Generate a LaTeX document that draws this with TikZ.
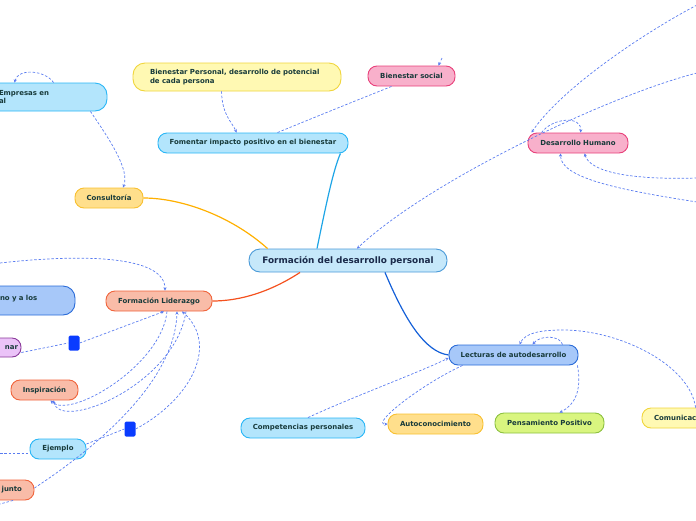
\documentclass[tikz,border=0pt]{standalone}
\usepackage{fontspec}
\setmainfont{DejaVu Sans}
\usetikzlibrary{arrows.meta,calc}
\definecolor{txt}{HTML}{173A3A}
\definecolor{ctxt}{HTML}{1A2A4A}
\definecolor{dsh}{HTML}{5A7CF0}
\definecolor{cfill}{HTML}{C6E8FA}\definecolor{cdraw}{HTML}{4A9AD8}
\definecolor{lbfill}{HTML}{B3E5FC}\definecolor{lbdraw}{HTML}{29B6F6}
\definecolor{yfill}{HTML}{FFF9B3}\definecolor{ydraw}{HTML}{F0D53C}
\definecolor{pkfill}{HTML}{F8B0CB}\definecolor{pkdraw}{HTML}{E8407A}
\definecolor{ofill}{HTML}{FFDF8C}\definecolor{odraw}{HTML}{F8C030}
\definecolor{sfill}{HTML}{F9BCA8}\definecolor{sdraw}{HTML}{F0643C}
\definecolor{bfill}{HTML}{A7C8F9}\definecolor{bdraw}{HTML}{2A6BD8}
\definecolor{pufill}{HTML}{EBC3F8}\definecolor{pudraw}{HTML}{8A3A9A}
\definecolor{gfill}{HTML}{D9F57F}\definecolor{gdraw}{HTML}{8CC040}
\definecolor{sqc}{HTML}{0A3CFF}
\definecolor{lcyan}{HTML}{1EA5E6}\definecolor{lorange}{HTML}{FFB000}
\definecolor{lred}{HTML}{F4511E}\definecolor{lblue}{HTML}{1560D8}
\tikzset{
 mm/.style={rectangle, rounded corners=9pt, line width=0.9pt, font=\bfseries\fontsize{6.95}{8.3}\selectfont, text=txt, inner sep=0pt, minimum height=20pt},
 lk/.style={draw=dsh, line width=0.7pt, dash pattern=on 2.5pt off 1.8pt},
 ar/.style={lk, -{Stealth[length=3.2pt,width=3.2pt]}},
 sq/.style={rectangle, rounded corners=1.5pt, fill=sqc, minimum width=11pt, minimum height=15pt, inner sep=0pt},
 mainln/.style={line width=1.2pt},
}
\begin{document}
\begin{tikzpicture}[x=1pt,y=-1pt]
\useasboundingbox (0,0) rectangle (696,520);
% nodes
\node[mm, fill=cfill, draw=cdraw, minimum width=198pt, minimum height=23pt, rounded corners=11pt, font=\bfseries\fontsize{8.9}{10}\selectfont, text=ctxt] (c) at (348,260.5) {Formación del desarrollo personal};
\node[mm, fill=lbfill, draw=lbdraw, minimum width=190pt] (fom) at (253,143) {Fomentar impacto positivo en el bienestar};
\node[mm, fill=yfill, draw=ydraw, minimum width=208pt, minimum height=28pt, rounded corners=12pt, align=left, text width=174pt, inner xsep=17pt] (bp) at (237,77) {Bienestar Personal, desarrollo de potencial\\de cada persona};
\node[mm, fill=pkfill, draw=pkdraw, minimum width=87pt] (bs) at (411.5,76) {Bienestar social};
\node[mm, fill=pkfill, draw=pkdraw, minimum width=100pt] (dh) at (578,143) {Desarrollo Humano};
\node[mm, fill=lbfill, draw=lbdraw, minimum width=146pt, minimum height=28pt, rounded corners=12pt, align=left, text width=70pt, inner xsep=38pt] (emp) at (34,97) {Empresas en\\al};
\node[mm, fill=ofill, draw=odraw, minimum width=68pt] (cons) at (109,198) {Consultoría};
\node[mm, fill=sfill, draw=sdraw, minimum width=106pt] (fl) at (159,301) {Formación Liderazgo};
\node[mm, fill=bfill, draw=bdraw, minimum width=105pt, minimum height=29pt, rounded corners=12pt, align=left, text width=45pt, inner xsep=30pt, text depth=5pt] (noy) at (22.5,300.5) {no y a los};
\node[mm, fill=pufill, draw=pudraw, minimum width=61pt, minimum height=19pt, align=right, text width=55pt, inner xsep=3pt] (nar) at (-9.5,347.5) {nar};
\node[mm, fill=sfill, draw=sdraw, minimum width=67pt] (insp) at (44.5,390) {Inspiración};
\node[mm, fill=lbfill, draw=lbdraw, minimum width=56pt] (ej) at (58,449) {Ejemplo};
\node[mm, fill=sfill, draw=sdraw, minimum width=74pt, align=right, text width=50pt, inner xsep=12pt] (jun) at (-3,490) {junto};
\node[mm, fill=bfill, draw=bdraw, minimum width=129pt] (lec) at (513.5,355) {Lecturas de autodesarrollo};
\node[mm, fill=lbfill, draw=lbdraw, minimum width=124pt] (comp) at (303,428) {Competencias personales};
\node[mm, fill=ofill, draw=odraw, minimum width=95pt] (auto) at (435.5,424) {Autoconocimiento};
\node[mm, fill=gfill, draw=gdraw, minimum width=109pt] (pp) at (549.5,423) {Pensamiento Positivo};
\node[mm, fill=yfill, draw=ydraw, minimum width=98pt, align=left, text width=74pt, inner xsep=12pt] (com) at (691,418) {Comunicac};
\node[sq] (sq1) at (74,343) {};
\node[sq] (sq2) at (130,429) {};
% free ends
\coordinate (tr1) at (697,73);
\coordinate (tr2) at (697,5);
\coordinate (rr1) at (697,178);
\coordinate (rr2) at (697,202);
\coordinate (bsin) at (442,58);
\coordinate (lft1) at (0,263);
\coordinate (lft2) at (0,453);
\coordinate (lft3) at (0,504);
% main connectors
\draw[mainln, lcyan] ($(c.north)+(-31,0)$) .. controls (325,210) and (333,170) .. ($(fom.south east)+(-8,0)$);
\draw[mainln, lorange] ($(c.north west)+(19,0)$) .. controls (230,215) and (180,198) .. (cons.east);
\draw[mainln, lred] ($(c.south)+(-48,0)$) .. controls (270,292) and (240,301) .. (fl.east);
\draw[mainln, lblue] ($(c.south)+(37,0)$) .. controls (405,320) and (425,352) .. (lec.west);
% dashed
\draw[ar] ($(bp.south west)+(89,0)$) .. controls (222,115) and (232,122) .. ($(fom.north west)+(79,0)$);
\draw[lk] ($(fom.north west)+(120,0)$) .. controls (320,115) and (370,95) .. ($(bs.south west)+(24,0)$);
\draw[ar] (bsin) -- ($(bs.north)+(27,0)$);
\draw[ar] ($(emp.north west)+(93,0)$) .. controls (45,70) and (18,68) .. ($(emp.north west)+(54,0)$);
\draw[ar] ($(emp.south east)+(-17,0)$) .. controls (110,140) and (130,170) .. ($(cons.north)+(14,0)$);
\draw[ar] (tr1) .. controls (610,95) and (430,180) .. ($(c.north)+(9,0)$);
\draw[ar] (tr2) .. controls (640,35) and (560,90) .. ($(dh.north west)+(4,0)$);
\draw[ar] ($(dh.north west)+(14,0)$) .. controls (552,118) and (582,115) .. ($(dh.north west)+(53,0)$);
\draw[ar] (rr1) .. controls (630,180) and (590,172) .. ($(dh.south west)+(57,0)$);
\draw[ar] (rr2) .. controls (620,190) and (560,178) .. ($(dh.south west)+(33,0)$);
\draw[ar] ($(comp.north)+(5,0)$) .. controls (350,398) and (420,372) .. ($(lec.west)+(0,3)$);
\draw[ar] ($(lec.south west)+(14,0)$) .. controls (420,385) and (370,425) .. (auto.west);
\draw[ar] ($(lec.south east)+(-1,0)$) .. controls (582,390) and (575,405) .. ($(pp.north)+(10,0)$);
\draw[ar] ($(lec.north west)+(114,0)$) .. controls (560,335) and (540,335) .. ($(lec.north west)+(84,0)$);
\draw[ar] ($(com.north west)+(54,0)$) .. controls (690,365) and (620,330) .. (563,330) .. controls (540,330) and (525,333) .. ($(lec.north west)+(71,0)$);
\draw[ar] (lft1) .. controls (80,254) and (165,255) .. ($(fl.north)+(6,0)$);
\draw[lk] ($(nar.east)+(0,5)$) -- (sq1.west);
\draw[ar] (sq1.east) -- ($(fl.south)+(5,0)$);
\draw[ar] ($(fl.south)+(8,0)$) .. controls (162,365) and (70,420) .. ($(insp.south)+(6,0)$);
\draw[ar] ($(fl.south)+(27,0)$) .. controls (175,385) and (60,432) .. ($(insp.south)+(9,0)$);
\draw[lk] (lft2) -- ($(ej.west)+(0,4)$);
\draw[lk] ($(ej.east)+(0,-5)$) -- (sq2.west);
\draw[ar] (sq2.east) .. controls (190,400) and (220,345) .. ($(fl.south)+(23,0)$);
\draw[ar] ($(jun.east)+(0,-2)$) .. controls (100,445) and (175,380) .. ($(fl.south)+(18,0)$);
\draw[lk] ($(jun.south)+(16,0)$) -- (lft3);
\end{tikzpicture}
\end{document}
